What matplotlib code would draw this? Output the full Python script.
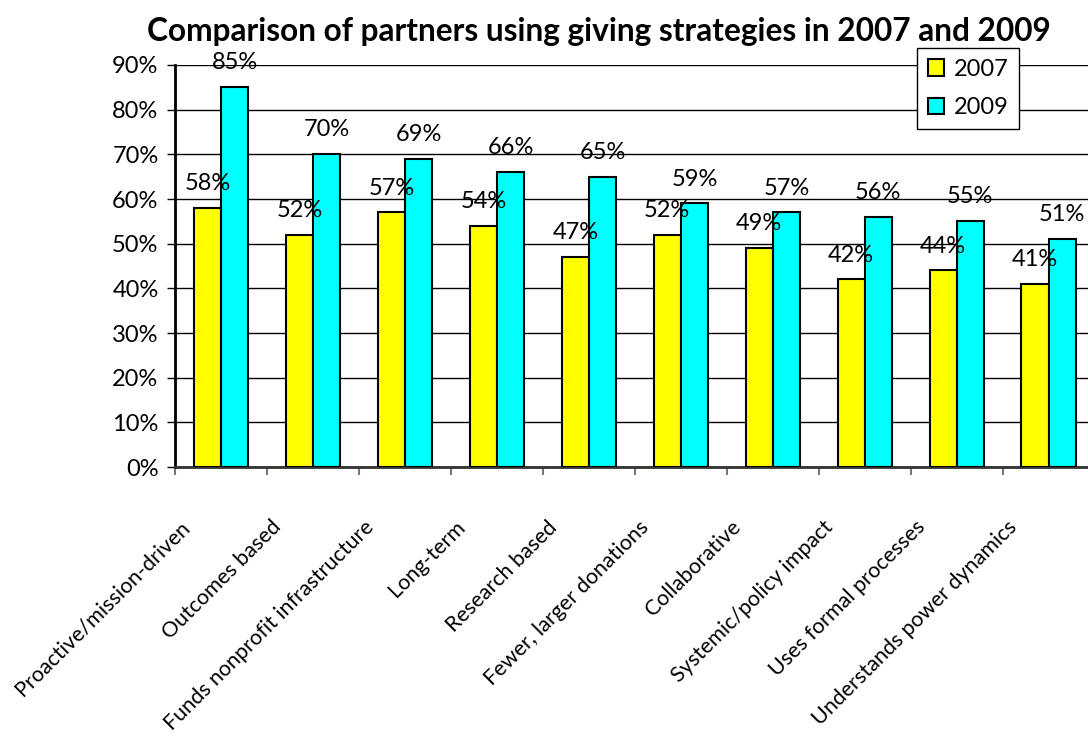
import numpy as np
import matplotlib.pyplot as plt

plt.rcParams["font.family"] = ["Lato", "DejaVu Sans"]

categories = [
    "Proactive/mission-driven",
    "Outcomes based",
    "Funds nonprofit infrastructure",
    "Long-term",
    "Research based",
    "Fewer, larger donations",
    "Collaborative",
    "Systemic/policy impact",
    "Uses formal processes",
    "Understands power dynamics",
]
pct_2007 = [58, 52, 57, 54, 47, 52, 49, 42, 44, 41]
pct_2009 = [85, 70, 69, 66, 65, 59, 57, 56, 55, 51]

fig = plt.figure(figsize=(10.88, 7.42), dpi=100)
ax = fig.add_axes([0.161, 0.3706, 0.845, 0.5418])

x = np.arange(len(categories))
w = 0.295
ax.bar(x - w / 2, pct_2007, w, color="#ffff00", edgecolor="black",
       linewidth=1.5, label="2007", zorder=3)
ax.bar(x + w / 2, pct_2009, w, color="#00ffff", edgecolor="black",
       linewidth=1.5, label="2009", zorder=3)

for xi, v in zip(x - w / 2, pct_2007):
    ax.text(xi, v + 3.1, f"{v}%", ha="center", va="bottom", fontsize=17, zorder=4)
for xi, v in zip(x + w / 2, pct_2009):
    ax.text(xi, v + 3.1, f"{v}%", ha="center", va="bottom", fontsize=17, zorder=4)

ax.set_xlim(-0.5, len(categories) - 0.5)
ax.set_ylim(0, 90)
ax.set_yticks(np.arange(0, 91, 10))
ax.set_yticklabels([f"{t}%" for t in range(0, 91, 10)], fontsize=17)
ax.yaxis.grid(True, color="black", linewidth=1.0)
ax.set_axisbelow(True)

# category boundaries carry the ticks, names sit at the centres
ax.set_xticks(np.arange(-0.5, len(categories), 1.0))
ax.set_xticklabels([])
ax.tick_params(axis="x", length=6, width=1.5, color="#777777")
ax.tick_params(axis="y", length=6, width=1.0, pad=6)
for xi, name in zip(x, categories):
    ax.annotate(name, xy=(xi, 0), xycoords=("data", "axes fraction"),
                xytext=(-25, -41), textcoords="offset points",
                rotation=45, rotation_mode="anchor", ha="right", va="center",
                fontsize=15.5)

for s in ["top", "right"]:
    ax.spines[s].set_visible(False)
ax.spines["left"].set_linewidth(2.0)
ax.spines["bottom"].set_linewidth(2.0)
ax.spines["bottom"].set_color("#333333")

ax.legend(loc="upper left", bbox_to_anchor=(0.807, 1.042), fontsize=17,
          frameon=True, fancybox=False, edgecolor="black", framealpha=1,
          handlelength=0.7, handleheight=0.7, handletextpad=0.4,
          borderpad=0.45, labelspacing=0.75, borderaxespad=0)

fig.text(0.55, 0.958, "Comparison of partners using giving strategies in 2007 and 2009",
         ha="center", va="center", fontsize=22.8, fontweight="bold")

fig.savefig("out.png", dpi=100)
